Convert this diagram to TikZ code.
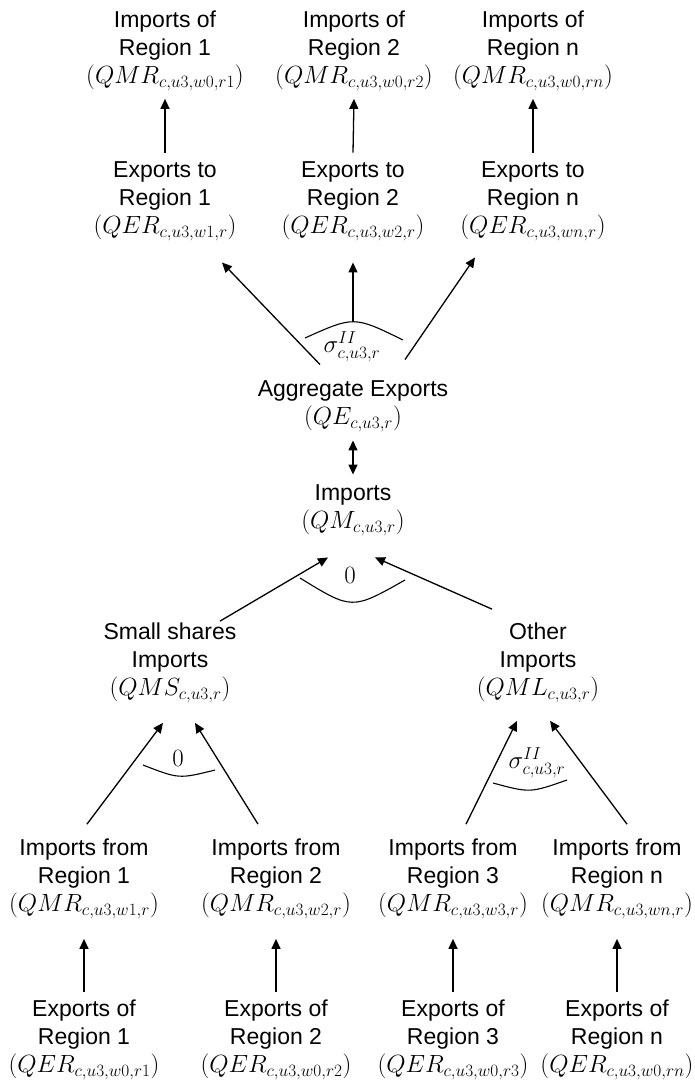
\documentclass[tikz,border=0pt]{standalone}
\usepackage[no-math]{fontspec}
\setmainfont{Liberation Sans}
\usetikzlibrary{arrows.meta,calc}
\tikzset{
  box/.style={align=center,inner sep=0pt,outer sep=0pt,font=\fontsize{23}{28}\selectfont},
  lbl/.style={inner sep=0pt,font=\fontsize{23}{28}\selectfont},
  arr/.style={line width=1.3pt,-{Triangle[length=10pt,width=9pt]}},
  darr/.style={line width=1.3pt,{Triangle[length=10pt,width=9pt]}-{Triangle[length=10pt,width=9pt]}},
  arcline/.style={line width=1.1pt}
}
\begin{document}
\begin{tikzpicture}[x=1pt,y=-1pt]
\useasboundingbox (0,0) rectangle (694,1084);
% top row
\node[box] (i1) at (165,51) {Imports of\\Region 1\\$(QMR_{c,u3,w0,r1})$};
\node[box] (i2) at (354,51) {Imports of\\Region 2\\$(QMR_{c,u3,w0,r2})$};
\node[box] (i3) at (533,51) {Imports of\\Region n\\$(QMR_{c,u3,w0,rn})$};
\node[box] (e1) at (165,201) {Exports to\\Region 1\\$(QER_{c,u3,w1,r})$};
\node[box] (e2) at (353,201) {Exports to\\Region 2\\$(QER_{c,u3,w2,r})$};
\node[box] (e3) at (533,201) {Exports to\\Region n\\$(QER_{c,u3,wn,r})$};
\node[box] (agg) at (353,406) {Aggregate Exports\\$(QE_{c,u3,r})$};
\node[box] (imp) at (353,510) {Imports\\$(QM_{c,u3,r})$};
\node[box] (ss) at (170,663) {Small shares\\Imports\\$(QMS_{c,u3,r})$};
\node[box] (oi) at (538,663) {Other\\Imports\\$(QML_{c,u3,r})$};
\node[box] (f1) at (84,879) {Imports from\\Region 1\\$(QMR_{c,u3,w1,r})$};
\node[box] (f2) at (276,879) {Imports from\\Region 2\\$(QMR_{c,u3,w2,r})$};
\node[box] (f3) at (453,879) {Imports from\\Region 3\\$(QMR_{c,u3,w3,r})$};
\node[box] (f4) at (617,879) {Imports from\\Region n\\$(QMR_{c,u3,wn,r})$};
\node[box] (x1) at (84,1040) {Exports of\\Region 1\\$(QER_{c,u3,w0,r1})$};
\node[box] (x2) at (276,1040) {Exports of\\Region 2\\$(QER_{c,u3,w0,r2})$};
\node[box] (x3) at (453,1040) {Exports of\\Region 3\\$(QER_{c,u3,w0,r3})$};
\node[box] (x4) at (617,1040) {Exports of\\Region n\\$(QER_{c,u3,w0,rn})$};
% labels
\node[lbl] (s1) at (352,347) {$\sigma^{II}_{c,u3,r}$};
\node[lbl] (z1) at (350,575) {$0$};
\node[lbl] (z2) at (178,758) {$0$};
\node[lbl] (s2) at (537,763) {$\sigma^{II}_{c,u3,r}$};
% top vertical arrows
\foreach \k in {1,2,3}{
  \draw[arr] ($(e\k.north)+(0,-9)$) -- ($(i\k.south)+(0,8)$);
}
% diagonals from aggregate exports
\draw[arr] ($(agg.north)+(-33,-16)$) -- ($(e1.south)+(57,22)$);
\draw[arr] ($(agg.north)+(0,-59)$) -- ($(e2.south)+(0,22)$);
\draw[arr] ($(agg.north)+(52,-21)$) -- ($(e3.south)+(-58,17)$);
\draw[arcline] (305,338) .. controls (354,316) .. (403,340);
% double arrow
\draw[darr] ($(agg.south)+(0,9)$) -- ($(imp.north)+(0,-10)$);
% to imports
\draw[arr] ($(ss.north)+(50,-2)$) -- ($(imp.south)+(-25,22)$);
\draw[arr] ($(oi.north)+(-46,-14)$) -- ($(imp.south)+(22,22)$);
\draw[arcline] (300,578) .. controls (352,610) .. (405,580);
% lower groups
\draw[arr] ($(f1.north)+(3,-15)$) -- ($(ss.south)+(-7,20)$);
\draw[arr] ($(f2.north)+(-18,-15)$) -- ($(ss.south)+(25,20)$);
\draw[arcline] (143,765) .. controls (179,779) .. (215,770);
\draw[arr] ($(f3.north)+(13,-15)$) -- ($(oi.south)+(-21,18)$);
\draw[arr] ($(f4.north)+(10,-15)$) -- ($(oi.south)+(12,18)$);
\draw[arcline] (493,783) .. controls (530,793) .. (567,780);
% bottom vertical arrows
\foreach \k in {1,2,3,4}{
  \draw[arr] ($(x\k.north)+(0,-8)$) -- ($(f\k.south)+(0,20)$);
}
\end{tikzpicture}
\end{document}
